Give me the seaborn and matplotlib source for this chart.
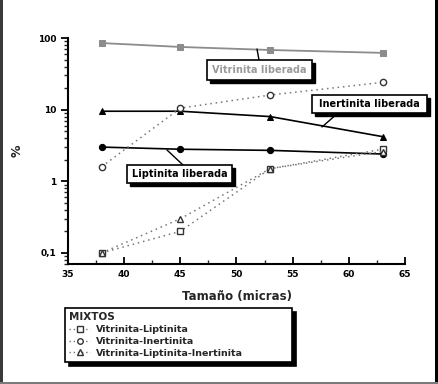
import numpy as np
import pandas as pd
import matplotlib
matplotlib.use("Agg")
import matplotlib.pyplot as plt
from matplotlib.patches import Rectangle
from matplotlib.lines import Line2D
from matplotlib.ticker import FixedLocator, NullFormatter, LogLocator
import seaborn as sns

# ---- data ----
tamano = [38, 45, 53, 63]
vitrinita_lib = [85, 75, 68, 62]
inertinita_lib = [9.5, 9.5, 8.0, 4.2]
liptinita_lib = [3.0, 2.8, 2.7, 2.4]
vit_lip = [0.1, 0.2, 1.5, 2.8]
vit_ine = [1.6, 10.5, 16, 24]
vit_lip_ine = [0.1, 0.3, 1.5, 2.6]

x_ticks = [35, 40, 45, 50, 55, 60, 65]
y_ticks = [0.1, 1, 10, 100]
y_labels = ["0,1", "1", "10", "100"]

sns.set_theme(style="white")
plt.rcParams["font.family"] = ["DejaVu Sans"]
plt.rcParams["font.weight"] = "bold"

W, H = 438, 384
fig = plt.figure(figsize=(W / 100, H / 100), dpi=100)
fig.patch.set_facecolor("white")


def fx(px):
    return px / W


def fy(py):
    return 1 - py / H


ax = fig.add_axes([fx(68), fy(264), fx(405) - fx(68), fy(38) - fy(264)])
ax.set_facecolor("white")

# liberated fractions (solid lines)
sns.lineplot(x=tamano, y=vitrinita_lib, ax=ax, color="#8c8c8c", marker="s",
             markersize=4.5, markeredgecolor="#8c8c8c", linewidth=1.3)
sns.lineplot(x=tamano, y=inertinita_lib, ax=ax, color="black", marker="^",
             markersize=5, markeredgecolor="black", linewidth=1.2)
sns.lineplot(x=tamano, y=liptinita_lib, ax=ax, color="black", marker="o",
             markersize=4.5, markeredgecolor="black", linewidth=1.2)

# mixed fractions (dotted lines, open markers)
mix_styles = [
    (vit_lip, "s", "Vitrinita-Liptinita"),
    (vit_ine, "o", "Vitrinita-Inertinita"),
    (vit_lip_ine, "^", "Vitrinita-Liptinita-Inertinita"),
]
handles = []
for vals, mk, lab in mix_styles:
    sns.lineplot(x=tamano, y=vals, ax=ax, color="#777777", marker=mk,
                 markersize=4.5, markerfacecolor="white", markeredgecolor="#333333",
                 markeredgewidth=1, linewidth=1.1, linestyle=(0, (1, 2.5)))
    handles.append(Line2D([], [], color="#777777", marker=mk, markersize=4,
                          markerfacecolor="white", markeredgecolor="#333333",
                          linewidth=1, linestyle=(0, (1, 2)), label=lab))

ax.set_yscale("log")
ax.set_xlim(35, 65)
ax.set_ylim(0.07, 100)
ax.set_xticks(x_ticks)
ax.set_xticklabels([str(t) for t in x_ticks])
ax.xaxis.set_minor_locator(FixedLocator([37.5 + 5 * i for i in range(6)]))
ax.set_yticks(y_ticks)
ax.set_yticklabels(y_labels)
ax.yaxis.set_minor_locator(LogLocator(base=10, subs=np.arange(2, 10)))
ax.yaxis.set_minor_formatter(NullFormatter())

for side in ["top", "right"]:
    ax.spines[side].set_visible(False)
for side in ["left", "bottom"]:
    ax.spines[side].set_color("black")
    ax.spines[side].set_linewidth(1.5)

ax.tick_params(axis="x", which="major", direction="in", length=5, width=1.3,
               labelsize=6.5, pad=4, bottom=True, colors="black")
ax.tick_params(axis="x", which="minor", direction="in", length=3, width=1, bottom=True)
ax.tick_params(axis="y", which="major", direction="out", length=5, width=1.3,
               labelsize=6.5, left=True, colors="black")
ax.tick_params(axis="y", which="minor", direction="out", length=3, width=1, left=True)
for lbl in ax.get_xticklabels() + ax.get_yticklabels():
    lbl.set_fontweight("bold")

ax.set_xlabel("Tamaño (micras)", fontsize=8.5, fontweight="bold", labelpad=8)
ax.set_ylabel("%", fontsize=9, fontweight="bold", labelpad=10)


# ---- annotation boxes with shadow ----
def label_box(x0, y0, x1, y1, text, color, leader):
    sh = 3
    fig.patches.append(Rectangle((fx(x0 + sh), fy(y1 + sh)), fx(x1) - fx(x0), fy(y0) - fy(y1),
                                 transform=fig.transFigure, facecolor="black",
                                 edgecolor="black", zorder=5))
    fig.patches.append(Rectangle((fx(x0), fy(y1)), fx(x1) - fx(x0), fy(y0) - fy(y1),
                                 transform=fig.transFigure, facecolor="white",
                                 edgecolor="black", linewidth=1.2, zorder=6))
    fig.text(fx((x0 + x1) / 2), fy((y0 + y1) / 2), text, ha="center", va="center",
             fontsize=7, fontweight="bold", color=color, zorder=7)
    (lx0, ly0), (lx1, ly1) = leader
    fig.add_artist(Line2D([fx(lx0), fx(lx1)], [fy(ly0), fy(ly1)], color="black",
                          linewidth=1, transform=fig.transFigure, zorder=4))


label_box(207, 60, 312, 80, "Vitrinita liberada", "#9a9a9a", ((257, 49), (259, 60)))
label_box(312, 95, 427, 113, "Inertinita liberada", "black", ((322, 127), (338, 113)))
label_box(127, 165, 232, 183, "Liptinita liberada", "black", ((167, 150), (183, 165)))

# ---- legend ----
leg = fig.legend(handles=handles, title="MIXTOS", loc="upper left",
                 bbox_to_anchor=(fx(65), fy(370), fx(292) - fx(65), fy(308) - fy(370)),
                 mode="expand", borderaxespad=0, fontsize=6.8, title_fontsize=7.5,
                 frameon=True, fancybox=False, shadow={"color": "black", "alpha": 1, "ox": 3, "oy": -3},
                 handlelength=2.2, handletextpad=0.6, labelspacing=0.3,
                 borderpad=0.45, alignment="left")
leg.get_frame().set_edgecolor("black")
leg.get_frame().set_linewidth(1.2)
leg.get_title().set_fontweight("bold")
for t in leg.get_texts():
    t.set_fontweight("bold")

# ---- outer dark frame of the scan ----
fig.add_artist(Rectangle((0, 0), fx(3), 1, transform=fig.transFigure,
                         facecolor="#3a3a3a", edgecolor="none"))
fig.add_artist(Rectangle((fx(435), 0), fx(3), 1, transform=fig.transFigure,
                         facecolor="black", edgecolor="none"))
fig.add_artist(Rectangle((0, 0), 1, 2 / H, transform=fig.transFigure,
                         facecolor="#7a7a7a", edgecolor="none"))

fig.savefig("out.png", dpi=100)
